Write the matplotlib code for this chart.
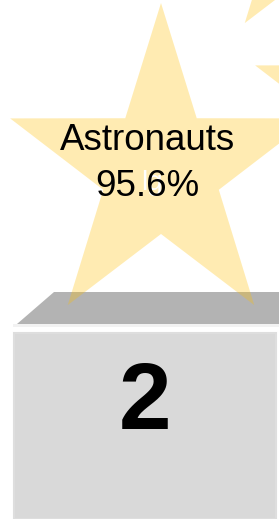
import numpy as np
import matplotlib.pyplot as plt
from matplotlib.patches import Polygon, Rectangle

# data
labels = ["Astronauts"]
values = [95.6]
ranks = [2]

W, H = 279, 519
fig = plt.figure(figsize=(W / 100, H / 100), dpi=100)
ax = fig.add_axes([0, 0, 1, 1])
ax.set_xlim(0, W)
ax.set_ylim(H, 0)
ax.axis('off')


def star(cx, cy, R=167, r=64, sx=0.95):
    k = np.arange(10)
    ang = np.deg2rad(90 + 36 * k)
    rad = np.where(k % 2 == 0, R, r)
    return np.column_stack([cx + sx * rad * np.cos(ang), cy - rad * np.sin(ang)])


# podium
ax.add_patch(Polygon([(17, 324), (54, 292), (279, 292), (279, 324)],
                     closed=True, facecolor='#b3b3b3', edgecolor='none', zorder=1))
ax.add_patch(Rectangle((13, 324), 266, 3, facecolor='#f2f2f2', edgecolor='none', zorder=1))
ax.add_patch(Rectangle((14, 333), 262, 186, facecolor='#d9d9d9', edgecolor='#dedede',
                       lw=1.5, zorder=1))

# stars (semi transparent, drawn over the podium top)
for cx, cy in [(161, 170), (406, 117), (338, -112)]:
    ax.add_patch(Polygon(star(cx, cy), closed=True, facecolor='#ffc000',
                         edgecolor='none', alpha=0.3, zorder=2))

# stray white label behind the value
ax.text(141, 190, "lg", color='white', fontsize=20, family='Liberation Sans',
        ha='left', va='baseline', zorder=3)

ax.text(147.5, 150, labels[0], ha='center', va='baseline', fontsize=26.5,
        family='Liberation Sans', color='black', zorder=4)
ax.text(147.5, 196, f"{values[0]}%", ha='center', va='baseline', fontsize=26.5,
        family='Liberation Sans', color='black', zorder=4)

ax.text(145, 429, str(ranks[0]), ha='center', va='baseline', fontsize=68,
        family='Liberation Sans', fontweight='bold', color='black', zorder=4)

fig.savefig('out.png', dpi=100)
